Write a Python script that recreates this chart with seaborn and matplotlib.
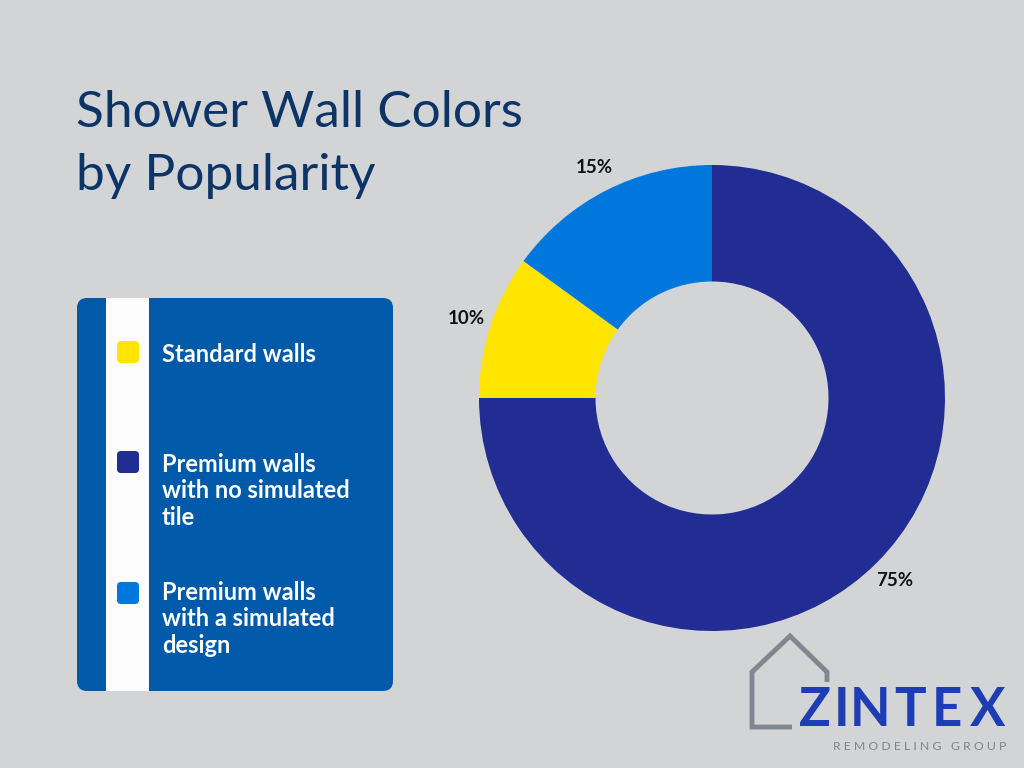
import matplotlib
matplotlib.use("Agg")
import matplotlib.pyplot as plt
import seaborn as sns
from matplotlib.patches import FancyBboxPatch, Rectangle
from matplotlib.lines import Line2D

categories = ["Premium walls\nwith no simulated\ntile", "Standard walls", "Premium walls\nwith a simulated\ndesign"]
values = [75, 10, 15]
pct_labels = ["75%", "10%", "15%"]
colors = ["#212d92", "#ffe500", "#0077dd"]

legend_labels = ["Standard walls", "Premium walls\nwith no simulated\ntile", "Premium walls\nwith a simulated\ndesign"]
legend_colors = ["#ffe500", "#212d92", "#0077dd"]

title_lines = ["Shower Wall Colors", "by Popularity"]
logo_letters = list("ZINTEX")
logo_x = [815, 842, 870, 910, 947, 988]

sns.set_theme(style="white")
plt.rcParams['font.family'] = ['Lato', 'DejaVu Sans']

BG = "#d3d4d6"
W, H = 1024, 768
fig = plt.figure(figsize=(W / 100, H / 100), dpi=100, facecolor=BG)

# Overlay axes in pixel coords
ov = fig.add_axes([0, 0, 1, 1])
ov.set_xlim(0, W)
ov.set_ylim(H, 0)
ov.axis("off")
ov.patch.set_alpha(0)

# Title
for line, by in zip(title_lines, [127, 190]):
    ov.text(76, by, line, fontsize=37, color="#0d3466", ha="left", va="baseline")

# Legend box
box = FancyBboxPatch((77 + 10, 298 + 10), 316 - 20, 393 - 20,
                     boxstyle="round,pad=10", fc="#015aa9", ec="none")
ov.add_patch(box)
ov.add_patch(Rectangle((106, 298), 43, 393, fc="#fcfcfd", ec="none"))
sq_y = [352, 462, 593]
txt_top = [343, 453, 581]
for lab, col, sy, ty in zip(legend_labels, legend_colors, sq_y, txt_top):
    ov.add_patch(FancyBboxPatch((117 + 4, sy - 11 + 4), 22 - 8, 22 - 8,
                                boxstyle="round,pad=4", fc=col, ec="none"))
    ov.text(162, ty, lab, fontsize=17, fontweight="bold", color="white",
            ha="left", va="top", linespacing=1.18)

# Logo
ov.add_line(Line2D([792, 752, 752, 790, 827, 827], [727, 727, 672, 636, 672, 682],
                   color="#80878e", lw=3.5, solid_joinstyle="miter", solid_capstyle="butt"))
for ch, lx in zip(logo_letters, logo_x):
    ov.text(lx, 711, ch, fontsize=38, fontweight="bold", color="#1d3db4",
            ha="center", va="center")
ov.text(920, 747, "R E M O D E L I N G   G R O U P", fontsize=8.8, color="#7d848b",
        ha="center", va="center")

# Donut
cx, cy, r = 712, 398, 233
ax = fig.add_axes([(cx - r) / W, (H - cy - r) / H, 2 * r / W, 2 * r / H])
ax.set_facecolor("none")
wedges, texts = ax.pie(values, labels=pct_labels, colors=colors, startangle=90,
                       counterclock=False, radius=1, labeldistance=1.11,
                       wedgeprops=dict(width=0.5, linewidth=0),
                       textprops=dict(fontsize=13.5, fontweight="bold", color="#111111"))
for t in texts:
    t.set_ha("center")
    t.set_va("center")
ax.set_xlim(-1, 1)
ax.set_ylim(-1, 1)
ax.set_aspect("equal")
ax.axis("off")

fig.savefig("out.png", dpi=100, facecolor=BG)
